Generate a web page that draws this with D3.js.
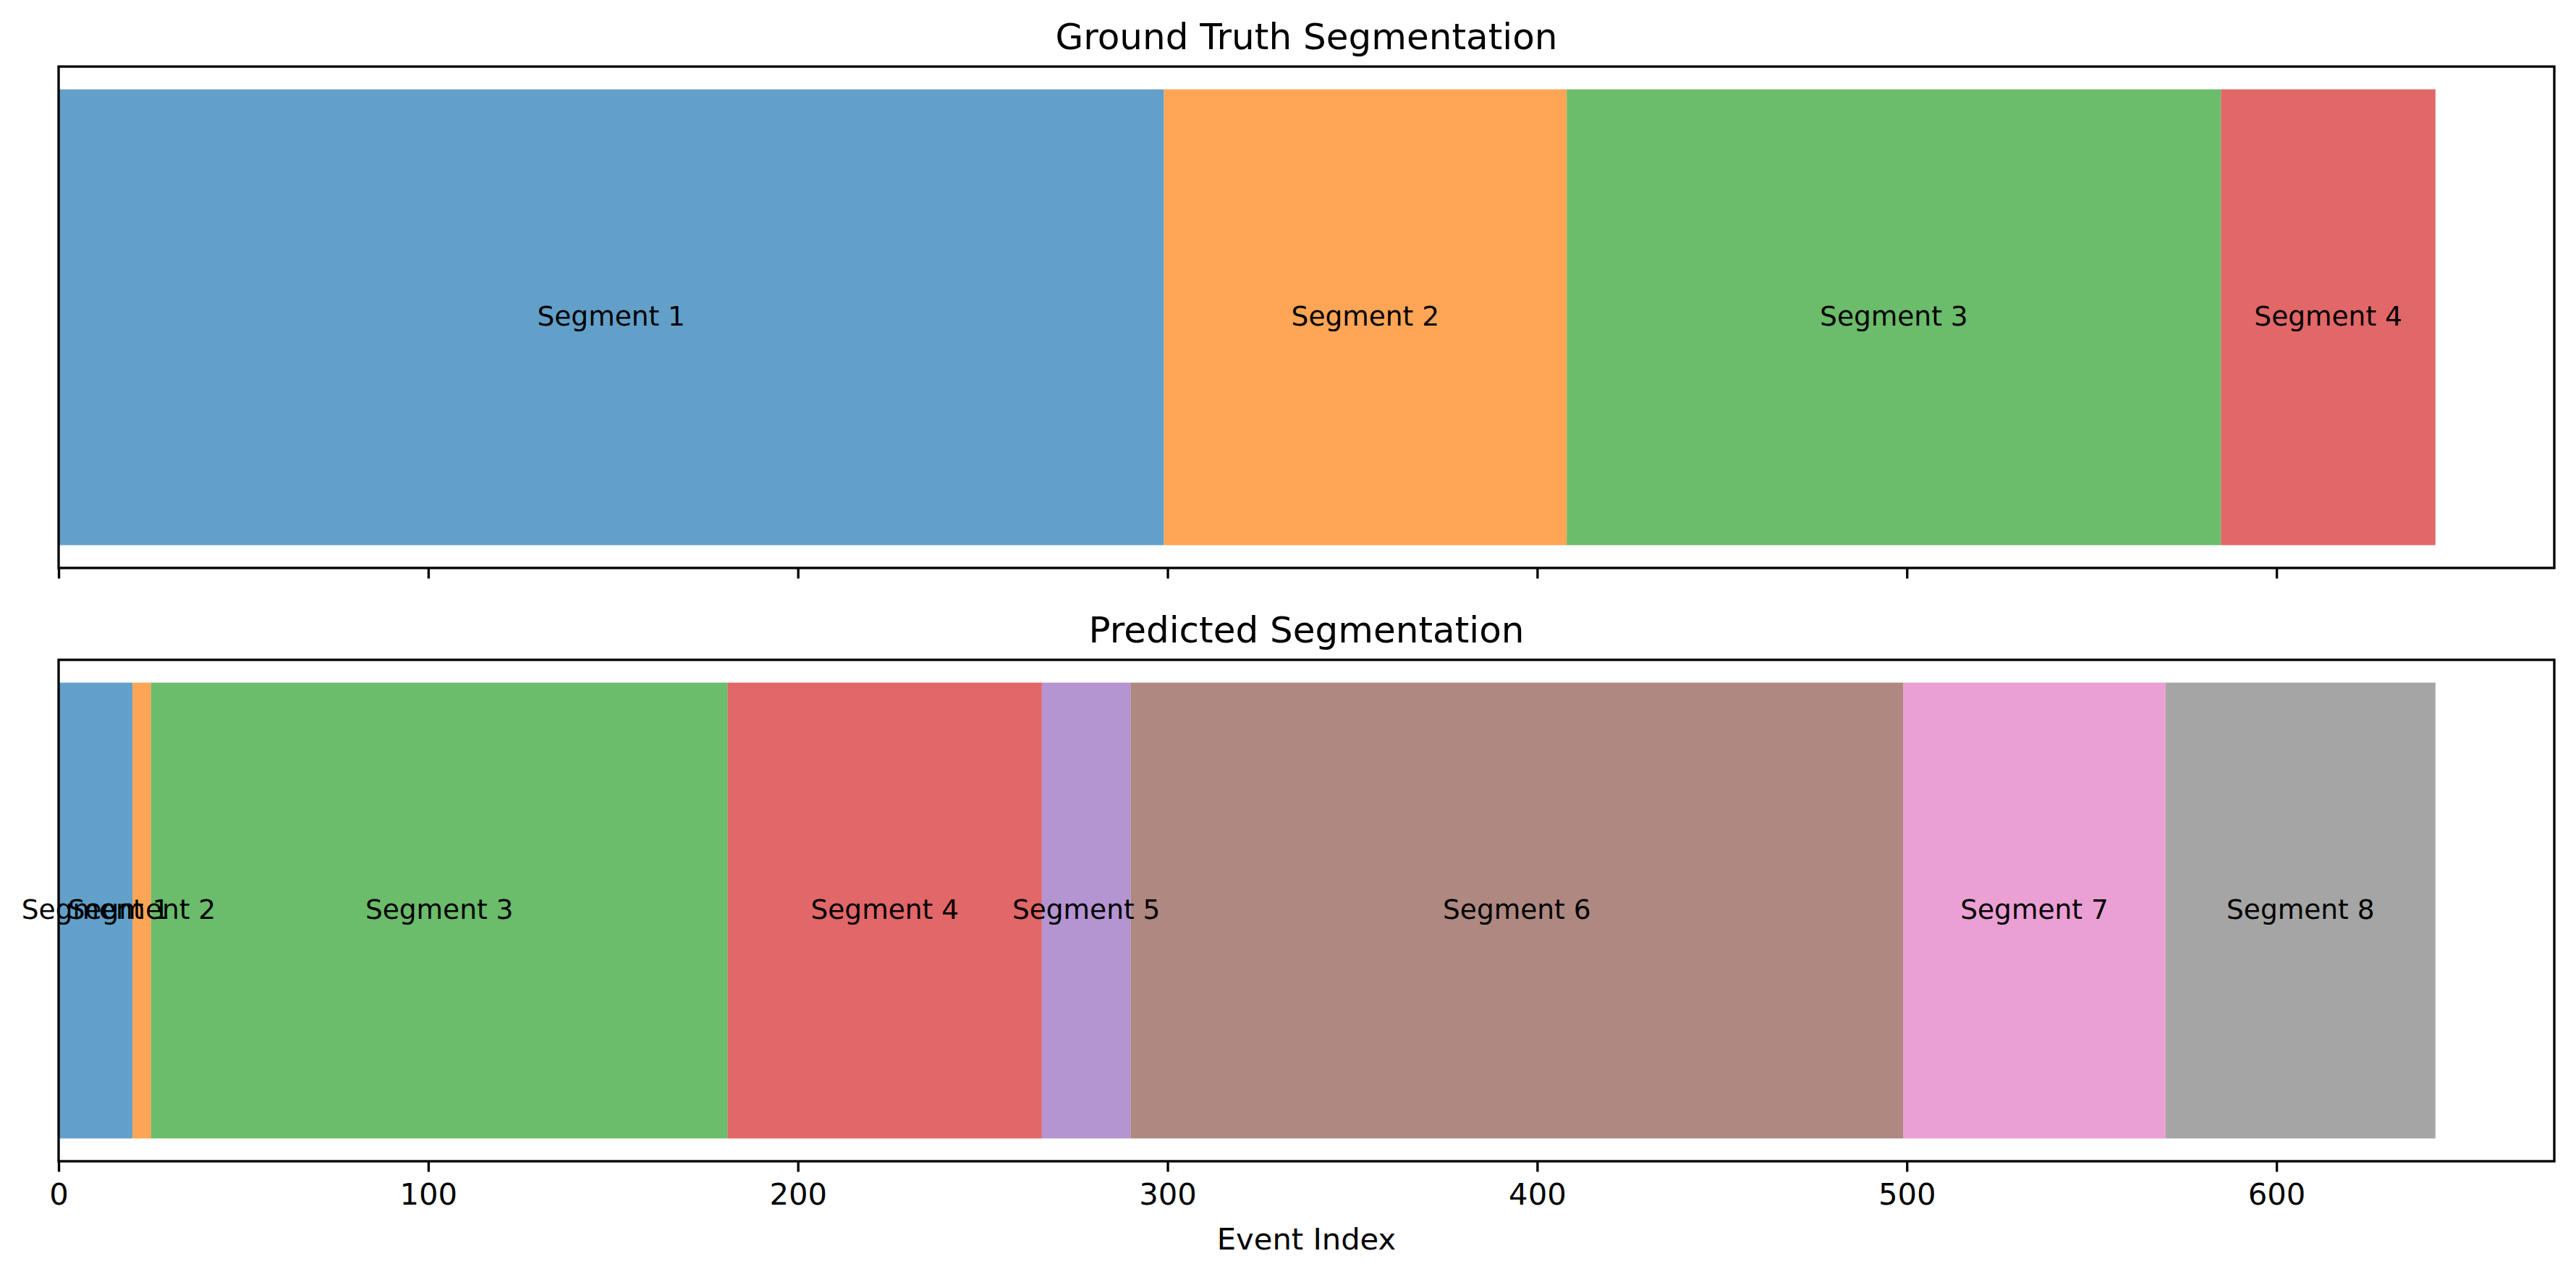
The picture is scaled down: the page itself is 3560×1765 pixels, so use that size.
<!DOCTYPE html>
<html>
<head>
    <meta charset="utf-8">
    <script src="https://cdn.jsdelivr.net/npm/d3@7/dist/d3.min.js"></script>
    <style>
        body {
            margin: 0;
            background: #fff;
        }
        svg text {
            font-family: "DejaVu Sans", sans-serif;
        }
    </style>
</head>
<body>
    <svg id="chart" width="3560" height="1765"></svg>
    <script>
    // segment boundaries (event index)
    var truthBounds = [0, 299, 408, 585, 643];
    var predBounds = [0, 20, 25, 181, 266, 290, 499, 570, 643];
    var panelTitles = ['Ground Truth Segmentation', 'Predicted Segmentation'];
    var xTicks = [0, 100, 200, 300, 400, 500, 600];
    var xLabel = 'Event Index';

    var palette = ['#1f77b4', '#ff7f0e', '#2ca02c', '#d62728', '#9467bd',
                   '#8c564b', '#e377c2', '#7f7f7f', '#bcbd22', '#17becf'];

    var svg = d3.select('#chart');
    var left = 81, right = 3530;
    var panels = [
        {top: 92, bottom: 785, bounds: truthBounds, title: panelTitles[0], labels: false},
        {top: 912, bottom: 1605, bounds: predBounds, title: panelTitles[1], labels: true}
    ];

    var xMax = d3.max(truthBounds.concat(predBounds));
    var x = d3.scaleLinear()
        .domain([0, xMax * 1.05])
        .range([left, right]);

    var lw = 0.8 * 300 / 72;     // 0.8pt at 300 dpi
    var tickLen = 3.5 * 300 / 72;

    panels.forEach(function (p) {
        // one bar of height 1, with 5% margin above and below
        var y = d3.scaleLinear().domain([-0.55, 0.55]).range([p.bottom, p.top]);

        var segs = d3.range(p.bounds.length - 1).map(function (i) {
            return {
                start: p.bounds[i],
                end: p.bounds[i + 1],
                name: 'Segment ' + (i + 1),
                color: palette[i % palette.length]
            };
        });

        var g = svg.append('g');

        g.selectAll('rect.seg')
            .data(segs)
            .enter().append('rect')
            .attr('class', 'seg')
            .attr('x', function (d) { return x(d.start); })
            .attr('width', function (d) { return x(d.end) - x(d.start); })
            .attr('y', y(0.5))
            .attr('height', y(-0.5) - y(0.5))
            .attr('fill', function (d) { return d.color; })
            .attr('fill-opacity', 0.7);

        g.selectAll('text.seg')
            .data(segs)
            .enter().append('text')
            .attr('class', 'seg')
            .attr('x', function (d) { return x((d.start + d.end) / 2); })
            .attr('y', y(0))
            .attr('dy', '0.3em')
            .attr('text-anchor', 'middle')
            .style('font-size', '37.5px')
            .attr('fill', '#000')
            .text(function (d) { return d.name; });

        // x axis
        var axis = d3.axisBottom(x)
            .tickValues(xTicks)
            .tickSize(tickLen)
            .tickPadding(16)
            .tickSizeOuter(0);
        if (!p.labels) axis.tickFormat('');

        var ax = g.append('g')
            .attr('transform', 'translate(0,' + p.bottom + ')')
            .call(axis);
        ax.select('.domain').remove();
        ax.selectAll('.tick line')
            .attr('stroke', '#000')
            .attr('stroke-width', lw);
        ax.selectAll('.tick text')
            .attr('fill', '#000')
            .style('font-size', '41.7px')
            .style('font-family', '"DejaVu Sans", sans-serif');

        // frame
        g.append('rect')
            .attr('x', left)
            .attr('y', p.top)
            .attr('width', right - left)
            .attr('height', p.bottom - p.top)
            .attr('fill', 'none')
            .attr('stroke', '#000')
            .attr('stroke-width', lw);

        g.append('text')
            .attr('x', (left + right) / 2)
            .attr('y', p.top - 24)
            .attr('text-anchor', 'middle')
            .style('font-size', '50px')
            .attr('fill', '#000')
            .text(p.title);
    });

    svg.append('text')
        .attr('x', (left + right) / 2)
        .attr('y', 1727)
        .attr('text-anchor', 'middle')
        .style('font-size', '41.7px')
        .attr('fill', '#000')
        .text(xLabel);
    </script>
</body>
</html>
